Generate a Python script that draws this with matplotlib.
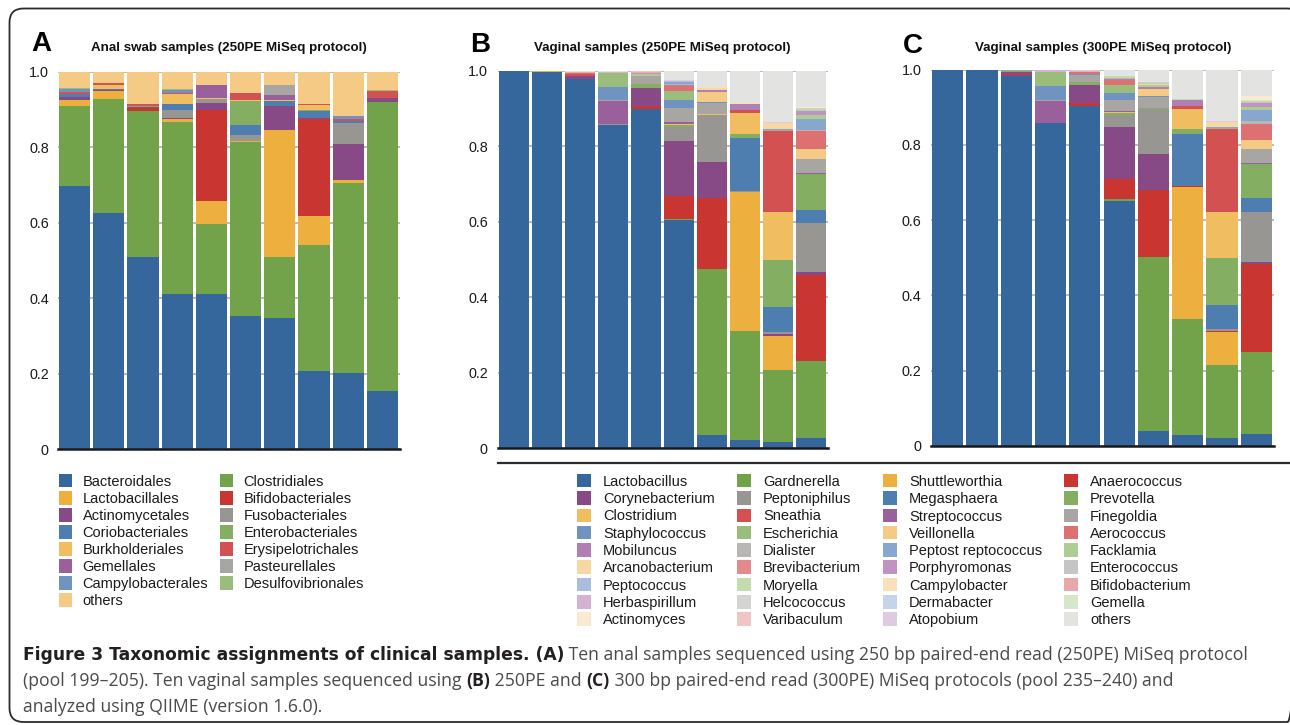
import numpy as np
import matplotlib
matplotlib.use("Agg")
import matplotlib.pyplot as plt
from matplotlib.patches import Rectangle, FancyBboxPatch

plt.rcParams['font.family'] = ['Liberation Sans', 'DejaVu Sans']

W, H = 1290, 725

# region DATA
samples = np.arange(10)

# panel A, stacked bottom -> top (legend is read row by row)
order_names = ["Bacteroidales", "Clostridiales", "Lactobacillales", "Bifidobacteriales",
               "Actinomycetales", "Fusobacteriales", "Coriobacteriales", "Enterobacteriales",
               "Burkholderiales", "Erysipelotrichales", "Gemellales", "Pasteurellales",
               "Campylobacterales", "Desulfovibrionales", "others"]
anal_250 = [
    [.698, .626, .509, .411, .411, .353, .348, .207, .202, .154],  # Bacteroidales
    [.211, .302, .387, .456, .186, .461, .161, .334, .503, .766],  # Clostridiales
    [.016, .020, 0, .007, .061, .002, .337, .077, .008, 0],        # Lactobacillales
    [0, 0, .008, 0, .240, 0, 0, .257, 0, 0],                       # Bifidobacteriales
    [.008, .004, .002, .003, .019, 0, .063, .002, .095, .010],     # Actinomycetales
    [0, 0, 0, .021, .010, .016, 0, 0, .056, 0],                    # Fusobacteriales
    [.008, .003, 0, .016, 0, .027, .013, .019, .005, 0],           # Coriobacteriales
    [0, 0, .003, 0, 0, .063, 0, .002, 0, 0],                       # Enterobacteriales
    [0, .009, 0, .028, .003, .003, .003, .014, 0, 0],              # Burkholderiales
    [.005, .006, .005, .002, 0, .019, 0, .002, .006, .019],        # Erysipelotrichales
    [0, 0, 0, 0, .035, 0, .013, 0, 0, 0],                          # Gemellales
    [0, 0, 0, 0, 0, 0, .027, 0, 0, 0],                             # Pasteurellales
    [.007, 0, 0, .007, 0, 0, 0, 0, .008, 0],                       # Campylobacterales
    [.004, 0, 0, .003, 0, 0, 0, 0, 0, .002],                       # Desulfovibrionales
    [.043, .030, .086, .046, .035, .056, .035, .086, .117, .049],  # others
]

# panels B and C, stacked bottom -> top
genus_names = ["Lactobacillus", "Gardnerella", "Shuttleworthia", "Anaerococcus",
               "Corynebacterium", "Peptoniphilus", "Megasphaera", "Prevotella",
               "Clostridium", "Sneathia", "Streptococcus", "Finegoldia",
               "Staphylococcus", "Escherichia", "Veillonella", "Aerococcus",
               "Mobiluncus", "Dialister", "Peptost reptococcus", "Facklamia",
               "Arcanobacterium", "Brevibacterium", "Porphyromonas", "Enterococcus",
               "Peptococcus", "Moryella", "Campylobacter", "Bifidobacterium",
               "Herbaspirillum", "Helcococcus", "Dermabacter", "Gemella",
               "Actinomyces", "Varibaculum", "Atopobium", "others"]
vag_250 = [
    [1.0, .997, .978, .856, .898, .605, .034, .023, .017, .028],  # Lactobacillus
    [0, 0, 0, 0, 0, .002, .441, .288, .190, .203],                # Gardnerella
    [0, .003, 0, 0, 0, 0, 0, .369, .091, 0],                      # Shuttleworthia
    [0, 0, 0, 0, .009, .062, .189, 0, 0, .228],                   # Anaerococcus
    [0, 0, .008, 0, .048, .145, .094, 0, .006, .008],             # Corynebacterium
    [0, 0, 0, .003, 0, .038, .125, .002, .004, .130],             # Peptoniphilus
    [0, 0, 0, 0, 0, 0, 0, .140, .066, .034],                      # Megasphaera
    [0, 0, 0, 0, .011, .003, 0, .010, .125, .095],                # Prevotella
    [0, 0, 0, 0, 0, .003, .002, .056, .127, 0],                   # Clostridium
    [0, 0, .004, 0, 0, 0, 0, .007, .215, 0],                      # Sneathia
    [0, 0, .002, .062, 0, .006, 0, 0, 0, .004],                   # Streptococcus
    [0, 0, 0, .002, .021, .037, .030, 0, .002, .036],             # Finegoldia
    [0, 0, 0, .034, 0, .022, .003, 0, 0, 0],                      # Staphylococcus
    [0, 0, 0, .037, 0, .023, 0, 0, 0, 0],                         # Escherichia
    [0, 0, 0, 0, 0, 0, .025, 0, 0, .027],                         # Veillonella
    [0, 0, .003, 0, 0, .014, 0, 0, 0, .048],                      # Aerococcus
    [0, 0, 0, 0, 0, .003, .006, .017, 0, 0],                      # Mobiluncus
    [0, 0, 0, 0, 0, .002, 0, 0, 0, .003],                         # Dialister
    [0, 0, 0, 0, 0, .004, 0, 0, .002, .029],                      # Peptostreptococcus
    [0, 0, 0, 0, .004, 0, 0, 0, 0, .010],                         # Facklamia
    [0, 0, 0, 0, 0, 0, .004, 0, .016, 0],                         # Arcanobacterium
    [0, 0, 0, 0, .003, 0, 0, 0, 0, 0],                            # Brevibacterium
    [0, 0, 0, 0, 0, 0, 0, 0, 0, .010],                            # Porphyromonas
    [0, 0, 0, 0, 0, 0, 0, 0, 0, .004],                            # Enterococcus
    [0, 0, 0, 0, 0, 0, 0, 0, 0, 0],                               # Peptococcus
    [0, 0, 0, 0, 0, 0, 0, 0, 0, .003],                            # Moryella
    [0, 0, 0, 0, 0, 0, .003, .002, 0, 0],                         # Campylobacter
    [0, 0, .002, 0, 0, 0, 0, 0, 0, 0],                            # Bifidobacterium
    [0, 0, 0, .003, .003, .003, 0, 0, 0, 0],                      # Herbaspirillum
    [0, 0, 0, 0, 0, 0, 0, 0, 0, 0],                               # Helcococcus
    [0, 0, 0, 0, 0, .003, 0, 0, 0, 0],                            # Dermabacter
    [0, 0, 0, 0, 0, 0, 0, 0, 0, 0],                               # Gemella
    [0, 0, 0, 0, 0, 0, 0, 0, 0, .005],                            # Actinomyces
    [0, 0, 0, 0, .002, 0, 0, 0, 0, 0],                            # Varibaculum
    [0, 0, 0, 0, 0, 0, 0, 0, .003, 0],                            # Atopobium
    [0, 0, .003, .003, .001, .025, .044, .086, .136, .095],       # others
]
vag_300 = [
    [1.0, 1.0, .984, .858, .903, .651, .039, .028, .020, .031],   # Lactobacillus
    [0, 0, 0, 0, 0, .005, .463, .309, .195, .218],                # Gardnerella
    [0, 0, 0, 0, 0, 0, 0, .351, .088, 0],                         # Shuttleworthia
    [0, 0, .003, 0, .008, .052, .179, .004, .003, .235],          # Anaerococcus
    [0, 0, .007, 0, .048, .140, .095, 0, 0, .005],                # Corynebacterium
    [0, 0, 0, 0, 0, .031, .119, 0, .004, .132],                   # Peptoniphilus
    [0, 0, 0, 0, 0, 0, 0, .137, .064, .039],                      # Megasphaera
    [0, 0, .002, 0, .009, .005, .004, .013, .125, .090],          # Prevotella
    [0, 0, 0, 0, 0, .003, 0, .053, .122, 0],                      # Clostridium
    [0, 0, 0, 0, 0, 0, 0, .008, .220, 0],                         # Sneathia
    [0, 0, 0, .060, 0, .003, 0, 0, 0, .003],                      # Streptococcus
    [0, 0, .002, .002, .018, .029, .029, 0, .003, .036],          # Finegoldia
    [0, 0, 0, .037, .003, .020, .003, 0, 0, 0],                   # Staphylococcus
    [0, 0, 0, .038, 0, .020, 0, 0, 0, 0],                         # Escherichia
    [0, 0, 0, 0, 0, 0, .018, 0, 0, .024],                         # Veillonella
    [0, 0, 0, 0, .004, .014, 0, 0, 0, .042],                      # Aerococcus
    [0, 0, 0, 0, 0, .003, .005, .016, 0, 0],                      # Mobiluncus
    [0, 0, 0, 0, 0, .003, 0, 0, 0, .008],                         # Dialister
    [0, 0, 0, 0, 0, 0, 0, 0, .003, .031],                         # Peptostreptococcus
    [0, 0, 0, 0, 0, 0, .004, 0, 0, .006],                         # Facklamia
    [0, 0, 0, 0, 0, 0, .003, 0, .014, 0],                         # Arcanobacterium
    [0, 0, 0, 0, 0, 0, 0, 0, 0, 0],                               # Brevibacterium
    [0, 0, 0, 0, 0, 0, 0, 0, 0, .011],                            # Porphyromonas
    [0, 0, 0, 0, 0, 0, .004, 0, 0, .003],                         # Enterococcus
    [0, 0, 0, 0, 0, 0, 0, 0, 0, 0],                               # Peptococcus
    [0, 0, 0, 0, 0, .003, .003, .004, 0, .003],                   # Moryella
    [0, 0, 0, 0, 0, 0, 0, 0, 0, 0],                               # Campylobacter
    [0, 0, 0, 0, 0, 0, 0, 0, 0, 0],                               # Bifidobacterium
    [0, 0, 0, .004, .003, 0, 0, 0, 0, 0],                         # Herbaspirillum
    [0, 0, 0, 0, 0, 0, 0, 0, 0, 0],                               # Helcococcus
    [0, 0, 0, 0, 0, 0, 0, 0, 0, 0],                               # Dermabacter
    [0, 0, 0, 0, 0, 0, 0, 0, 0, .003],                            # Gemella
    [0, 0, 0, 0, 0, 0, 0, 0, 0, .010],                            # Actinomyces
    [0, 0, 0, 0, .003, .002, 0, 0, 0, 0],                         # Varibaculum
    [0, 0, 0, 0, 0, 0, 0, 0, .003, 0],                            # Atopobium
    [0, 0, .002, .001, .001, .016, .032, .077, .136, .070],       # others
]

yticks = [0, 0.2, 0.4, 0.6, 0.8, 1.0]
ytick_labels = ["0", "0.2", "0.4", "0.6", "0.8", "1.0"]

palette = ["#36679c", "#72a24a", "#edb03e", "#c93632", "#874a86", "#979693",
           "#4e7db0", "#84ae62", "#f0be61", "#d45152", "#9a609c", "#a7a6a3",
           "#7094c1", "#9abd7b", "#f4ca84", "#dd7070", "#b07fb3", "#b8b7b4",
           "#88a7ce", "#aecd93", "#f7d8a3", "#e38b8b", "#c193c3", "#c5c5c3",
           "#a8bedb", "#c3dbaf", "#f9e0bb", "#e9a8a8", "#d3b2d3", "#d4d4d3",
           "#c5d4e8", "#d5e6c9", "#fbead2", "#f1c5c5", "#dfcae1", "#e3e3e1"]
# endregion

fig = plt.figure(figsize=(W / 100, H / 100), dpi=100)
fig.patch.set_facecolor("white")


def px_axes(left, right, top, bottom):
    return fig.add_axes([left / W, 1 - bottom / H, (right - left) / W, (bottom - top) / H])


def stacked_panel(ax, rows, colors, pad):
    cum = np.zeros(len(samples))
    for row, col in zip(rows, colors):
        vals = np.array(row, dtype=float)
        ax.bar(samples, vals, bottom=cum, width=0.91, color=col, linewidth=0, zorder=2)
        cum += vals
    ax.set_xlim(-0.5, 9.5)
    ax.set_ylim(0, 1.0)
    ax.set_xticks([])
    ax.set_yticks(yticks)
    ax.set_yticklabels(ytick_labels)
    ax.tick_params(axis="y", length=0, pad=pad, labelsize=10.4, colors="#1a1a1a")
    ax.yaxis.grid(True, color="#b4b4b4", linewidth=1.3, zorder=0)
    ax.set_axisbelow(True)
    for s in ["top", "right", "left"]:
        ax.spines[s].set_visible(False)
    ax.spines["bottom"].set_color("#1a1a1a")
    ax.spines["bottom"].set_linewidth(1.8)
    ax.spines["bottom"].set_zorder(3)


axA = px_axes(57.5, 399.5, 71.7, 449.3)
stacked_panel(axA, anal_250, palette[:15], 6.3)
axB = px_axes(497.5, 827.5, 70.7, 448.3)
stacked_panel(axB, vag_250, palette, 7.0)
axC = px_axes(930.5, 1273.5, 69.7, 445.7)
stacked_panel(axC, vag_300, palette, 6.5)

# overlay in pixel units for frame, titles, legends and caption
ov = fig.add_axes([0, 0, 1, 1], zorder=5)
ov.set_xlim(0, W)
ov.set_ylim(H, 0)
ov.axis("off")

# frame runs off the right edge of the picture
ov.add_patch(FancyBboxPatch((9.5, 8.5), 1292, 713.5, boxstyle="round,pad=0,rounding_size=14",
                            fc="none", ec="#2b2b2b", lw=1.3, clip_on=True))
ov.plot([498, 1290], [462.5, 462.5], color="#2b2b2b", lw=1.6)

for letter, lx, ly in [("A", 31, 50.5), ("B", 470, 51.5), ("C", 903, 52.5)]:
    ov.text(lx, ly, letter, fontsize=20, fontweight="bold", ha="left", va="baseline", color="black")

for title, tx in [("Anal swab samples (250PE MiSeq protocol)", 229),
                  ("Vaginal samples (250PE MiSeq protocol)", 662),
                  ("Vaginal samples (300PE MiSeq protocol)", 1103)]:
    ov.text(tx, 50.5, title, fontsize=9.6, fontweight="bold", ha="center", va="baseline", color="#111111")

# legend A: two columns, read row by row
sq = 13.5
row_y0, row_dy = 480.7, 17.05
colA_x = [58.5, 219.5]
for i, (name, col) in enumerate(zip(order_names, palette[:15])):
    c, r = i % 2, i // 2
    y = row_y0 + r * row_dy
    ov.add_patch(Rectangle((colA_x[c], y - sq / 2), sq, sq, fc=col, ec="none"))
    ov.text(colA_x[c] + 24, y + 5.2, name, fontsize=10.5, ha="left", va="baseline", color="#1a1a1a")

# legend B/C: four columns, read row by row
colB_x = [577, 737, 883, 1064]
for i, (name, col) in enumerate(zip(genus_names, palette)):
    c, r = i % 4, i // 4
    y = row_y0 + r * 17.3
    ov.add_patch(Rectangle((colB_x[c], y - sq / 2), sq, sq, fc=col, ec="none"))
    ov.text(colB_x[c] + 26, y + 5.2, name, fontsize=10.5, ha="left", va="baseline", color="#1a1a1a")

# caption, bold and regular runs placed one after another
renderer = fig.canvas.get_renderer()
cap_fonts = {"head": (["DejaVu Sans"], 12.3, "bold", "#231f20"),
             "label": (["Open Sans", "DejaVu Sans"], 12.7, "bold", "#231f20"),
             "body": (["Open Sans", "DejaVu Sans"], 12.7, "normal", "#4a4a4a")}


def run_width(txt, style):
    fam, size, weight, _ = cap_fonts[style]
    t1 = ov.text(0, 0, txt + "|", fontsize=size, fontweight=weight, family=fam)
    t2 = ov.text(0, 0, "|", fontsize=size, fontweight=weight, family=fam)
    w = t1.get_window_extent(renderer).width - t2.get_window_extent(renderer).width
    t1.remove()
    t2.remove()
    return w


caption_lines = [
    (660, [("Figure 3 Taxonomic assignments of clinical samples. (A)", "head"),
           (" Ten anal samples sequenced using 250 bp paired-end read (250PE) MiSeq protocol", "body")]),
    (686, [("(pool 199\u2013205). Ten vaginal samples sequenced using ", "body"), ("(B)", "label"),
           (" 250PE and ", "body"), ("(C)", "label"),
           (" 300 bp paired-end read (300PE) MiSeq protocols (pool 235\u2013240) and", "body")]),
    (712, [("analyzed using QIIME (version 1.6.0).", "body")]),
]
for y, pieces in caption_lines:
    x = 23
    for txt, style in pieces:
        fam, size, weight, color = cap_fonts[style]
        ov.text(x, y, txt, fontsize=size, fontweight=weight, family=fam,
                ha="left", va="baseline", color=color)
        x += run_width(txt, style)

fig.savefig("out.png", dpi=100, facecolor="white")
